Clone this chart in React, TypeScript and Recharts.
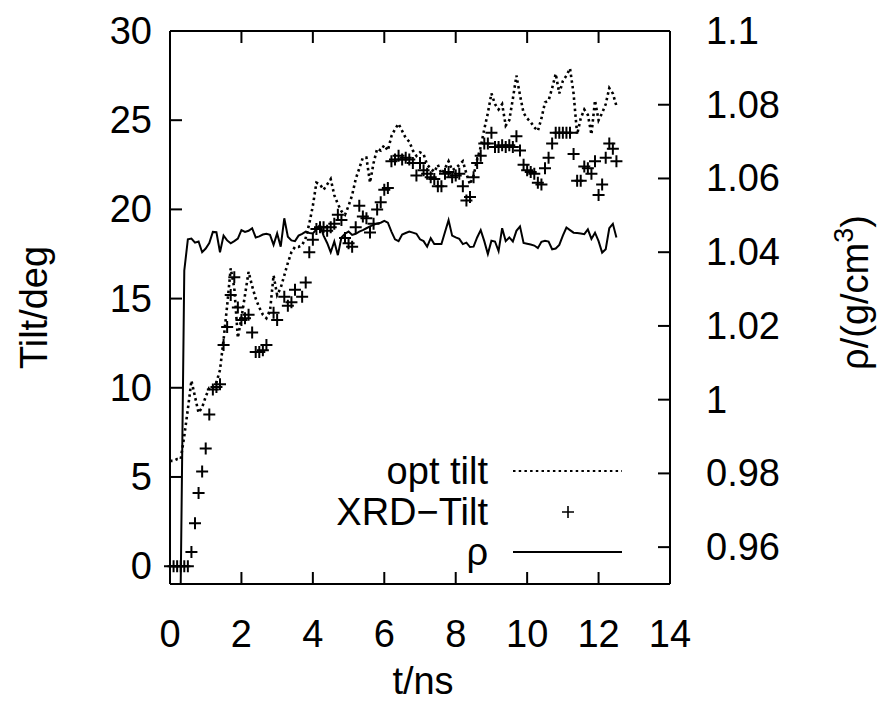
import React from 'react';
import { ComposedChart, Line, Scatter, XAxis, YAxis, Legend } from 'recharts';

// time axis, ns
const TIME = [
  0, 0.1, 0.2, 0.3, 0.4, 0.5, 0.6, 0.7, 0.8, 0.9,
  1, 1.1, 1.2, 1.3, 1.4, 1.5, 1.6, 1.7, 1.8, 1.9,
  2, 2.1, 2.2, 2.3, 2.4, 2.5, 2.6, 2.7, 2.8, 2.9,
  3, 3.1, 3.2, 3.3, 3.4, 3.5, 3.6, 3.7, 3.8, 3.9,
  4, 4.1, 4.2, 4.3, 4.4, 4.5, 4.6, 4.7, 4.8, 4.9,
  5, 5.1, 5.2, 5.3, 5.4, 5.5, 5.6, 5.7, 5.8, 5.9,
  6, 6.1, 6.2, 6.3, 6.4, 6.5, 6.6, 6.7, 6.8, 6.9,
  7, 7.1, 7.2, 7.3, 7.4, 7.5, 7.6, 7.7, 7.8, 7.9,
  8, 8.1, 8.2, 8.3, 8.4, 8.5, 8.6, 8.7, 8.8, 8.9,
  9, 9.1, 9.2, 9.3, 9.4, 9.5, 9.6, 9.7, 9.8, 9.9,
  10, 10.1, 10.2, 10.3, 10.4, 10.5, 10.6, 10.7, 10.8, 10.9,
  11, 11.1, 11.2, 11.3, 11.4, 11.5, 11.6, 11.7, 11.8, 11.9,
  12, 12.1, 12.2, 12.3, 12.4, 12.5,
];

// opt tilt, deg
const OPT_TILT = [
  5.9, 5.9, 6.0, 6.0, 7.3, 8.8, 10.4, 9.5, 8.6, 8.9,
  9.5, 10.0, 10.0, 10.3, 11.0, 12.7, 14.6, 16.7, 15.6, 12.8,
  13.9, 15.2, 16.5, 15.7, 15.0, 14.5, 14.1, 13.9, 14.3, 16.3,
  15.2, 15.6, 16.3, 17.0, 17.6, 17.9, 17.9, 18.0, 18.4, 19.2,
  20.2, 21.5, 21.4, 21.1, 21.4, 21.7, 20.8, 20.3, 19.9, 19.7,
  20.2, 20.8, 21.7, 22.3, 22.9, 22.9, 21.5, 22.6, 23.4, 23.3,
  23.6, 23.3, 24.1, 24.5, 24.8, 24.4, 24.0, 23.8, 23.3, 23.0,
  23.2, 23.1, 22.5, 22.3, 22.1, 22.5, 22.0, 22.3, 22.7, 22.2,
  22.3, 22.5, 22.7, 22.0, 21.4, 21.9, 22.8, 23.5, 24.5, 25.4,
  26.5, 25.9, 25.6, 25.9, 24.7, 25.0, 26.2, 27.5, 26.4, 25.4,
  25.1, 24.9, 24.6, 24.4, 25.1, 26.0, 26.1, 26.8, 27.6, 26.5,
  27.2, 27.5, 27.9, 26.5, 24.2, 25.1, 25.6, 25.3, 24.2, 26.1,
  25.0, 25.4, 25.9, 26.8, 26.5, 25.8,
];

// XRD tilt, deg (null = no point)
const XRD_TILT = [
  0, 0, 0, 0, 0, 0, 0.8, 2.4, 4.1, 5.3,
  6.6, 8.5, 9.9, 10.05, 10.2, 12.4, 13.4, 15.2, 16.2, 14.5,
  13.8, 13.9, 14.1, 13.1, 12.0, 12.0, 12.1, 12.4, null, 14.2,
  13.8, null, 15.1, 14.6, 14.8, 15.5, null, 15.1, 15.9, 17.6,
  18.3, 18.9, 19.0, 19.0, 18.8, 19.0, 19.2, 19.7, 19.4, 18.4,
  18.1, 17.9, 19.0, 20.2, 19.6, 19.5, 18.7, 19.2, 20.0, 20.4,
  21.1, 21.2, 22.7, 22.8, 23.0, 22.8, 22.9, 22.8, 22.6, 21.9,
  22.6, 22.2, 22.0, 21.8, 21.7, 21.3, 21.3, 22.0, 22.1, 21.8,
  21.9, 22.0, 21.3, 20.5, 20.7, 21.8, 22.6, 23.0, 23.7, 23.7,
  24.3, 23.5, 23.5, 23.6, 23.5, 23.6, 23.5, 24.1, 23.3, 22.5,
  22.2, 22.1, 22.0, 21.5, 21.4, 22.3, 22.9, 23.7, 24.3, 24.3,
  24.3, 24.3, 24.3, 23.1, 21.6, 21.6, 22.4, 22.3, 22.0, 22.7,
  20.8, 21.4, 22.9, 23.7, 23.4, 22.7,
];

// density, g/cm3
const RHO = [
  0.95, 0.95, 0.95, 0.95, 1.035, 1.0435, 1.0437, 1.0426, 1.0429, 1.04,
  1.041, 1.0425, 1.0455, 1.0454, 1.04, 1.0445, 1.0432, 1.0424, 1.043, 1.0437,
  1.046, 1.0455, 1.0458, 1.0465, 1.044, 1.0443, 1.0448, 1.045, 1.0447, 1.042,
  1.0451, 1.0415, 1.0492, 1.0442, 1.0432, 1.043, 1.0445, 1.045, 1.0456, 1.0452,
  1.0451, 1.0462, 1.0474, 1.0445, 1.0425, 1.04, 1.0429, 1.0392, 1.044, 1.045,
  1.0456, 1.0447, 1.045, 1.0456, 1.046, 1.0465, 1.047, 1.0474, 1.0478, 1.048,
  1.0485, 1.048, 1.0456, 1.0435, 1.043, 1.0448, 1.0452, 1.0456, 1.0453, 1.045,
  1.0435, 1.043, 1.0415, 1.0438, 1.0422, 1.0422, 1.0422, 1.0455, 1.0487, 1.0445,
  1.044, 1.0436, 1.0422, 1.0426, 1.0414, 1.0415, 1.044, 1.046, 1.043, 1.0395,
  1.0431, 1.0429, 1.0403, 1.0465, 1.043, 1.044, 1.0429, 1.0458, 1.047, 1.0425,
  1.0423, 1.0421, 1.0418, 1.0411, 1.0428, 1.0431, 1.0429, 1.0408, 1.041, 1.042,
  1.0445, 1.0467, 1.046, 1.0453, 1.0452, 1.0451, 1.0449, 1.0462, 1.0436, 1.0453,
  1.043, 1.0399, 1.0408, 1.0465, 1.0477, 1.044,
];

const T_TICKS = [0, 2, 4, 6, 8, 10, 12, 14];
const TILT_TICKS = [0, 5, 10, 15, 20, 25, 30];
const RHO_TICKS = [0.96, 0.98, 1, 1.02, 1.04, 1.06, 1.08, 1.1];

const FONT = '"Liberation Sans", Arial, Helvetica, sans-serif';
const FS = 38;
const TICK_LEN = 12;
const DOTS = '2.5 3.2';

const data = TIME.map((t, i) => ({ t, opt: OPT_TILT[i], rho: RHO[i] }));
const xrdData = TIME.map((t, i) => ({ t, xrd: XRD_TILT[i] })).filter(d => d.xrd !== null);

const LeftTick = (p: any) => (
  <g>
    <line x1={p.x} y1={p.y} x2={p.x + TICK_LEN} y2={p.y} stroke="#000" strokeWidth={2} />
    <text x={p.x - 18} y={p.y} dy={13} textAnchor="end" fontFamily={FONT} fontSize={FS} fill="#000">
      {p.payload.value}
    </text>
  </g>
);

const RightTick = (p: any) => (
  <g>
    <line x1={p.x} y1={p.y} x2={p.x - TICK_LEN} y2={p.y} stroke="#000" strokeWidth={2} />
    <text x={p.x + 36} y={p.y} dy={13} textAnchor="start" fontFamily={FONT} fontSize={FS} fill="#000">
      {p.payload.value}
    </text>
  </g>
);

const BottomTick = (p: any) => (
  <g>
    <line x1={p.x} y1={p.y} x2={p.x} y2={p.y - TICK_LEN} stroke="#000" strokeWidth={2} />
    <text x={p.x} y={p.y + 63} textAnchor="middle" fontFamily={FONT} fontSize={FS} fill="#000">
      {p.payload.value}
    </text>
  </g>
);

const TopTick = (p: any) => (
  <line x1={p.x} y1={p.y} x2={p.x} y2={p.y + TICK_LEN} stroke="#000" strokeWidth={2} />
);

const Plus = (p: any) => {
  const { cx, cy } = p;
  if (cx == null || cy == null) return null;
  return <path d={`M${cx - 6},${cy}H${cx + 6}M${cx},${cy - 6}V${cy + 6}`} stroke="#000" strokeWidth={2} fill="none" />;
};

const LegendBox = (props: any) => {
  const items = props.payload || [];
  const find = (k: string) => items.find((it: any) => it.dataKey === k)?.value;
  const rows = [
    { key: 'opt', label: find('opt') ?? 'opt tilt', y: 23 },
    { key: 'xrd', label: find('xrd') ?? 'XRD−Tilt', y: 64 },
    { key: 'rho', label: find('rho') ?? 'ρ', y: 104 },
  ];
  return (
    <svg width={340} height={130} style={{ display: 'block' }}>
      {rows.map(r => (
        <g key={r.key}>
          <text x={188} y={r.y + 13} textAnchor="end" fontFamily={FONT} fontSize={FS} fill="#000">{r.label}</text>
          {r.key === 'opt' && (
            <line x1={213} y1={r.y} x2={322} y2={r.y} stroke="#000" strokeWidth={2} strokeDasharray={DOTS} />
          )}
          {r.key === 'xrd' && (
            <path d={`M${262},${r.y}H${274}M${268},${r.y - 6}V${r.y + 6}`} stroke="#000" strokeWidth={1.6} />
          )}
          {r.key === 'rho' && <line x1={213} y1={r.y} x2={322} y2={r.y} stroke="#000" strokeWidth={2} />}
        </g>
      ))}
    </svg>
  );
};

const LeftTitle = (p: any) => {
  const vb = p.viewBox;
  const cx = vb.x - 55;
  const cy = vb.y + vb.height / 2;
  return (
    <text x={cx} y={cy} transform={`rotate(-90, ${cx}, ${cy})`} textAnchor="middle" dy={12}
      fontFamily={FONT} fontSize={FS} fill="#000">Tilt/deg</text>
  );
};

const RightTitle = (p: any) => {
  const vb = p.viewBox;
  const cx = vb.x + 186;
  const cy = vb.y + vb.height / 2 - 15;
  return (
    <text x={cx} y={cy} transform={`rotate(-90, ${cx}, ${cy})`} textAnchor="middle" dy={12}
      fontFamily={FONT} fontSize={FS} fill="#000">
      ρ/(g/cm<tspan dy={-15} fontSize={27}>3</tspan><tspan dy={15}>)</tspan>
    </text>
  );
};

const BottomTitle = (p: any) => {
  const vb = p.viewBox;
  return (
    <text x={vb.x + vb.width / 2 + 3} y={vb.y + 110} textAnchor="middle" fontFamily={FONT} fontSize={FS} fill="#000">
      t/ns
    </text>
  );
};

export default function App() {
  return (
    <div style={{ width: 877, height: 694, position: 'relative' }}>
      <ComposedChart width={877} height={694} data={data} margin={{ top: 22, right: 135, bottom: 58, left: 82 }}>
        <XAxis
          xAxisId="bottom" dataKey="t" type="number" domain={[0, 14]} ticks={T_TICKS} interval={0}
          height={60} tickSize={0} tickMargin={0} tick={<BottomTick />}
          axisLine={{ stroke: '#000', strokeWidth: 2 }} tickLine={false}
          label={{ content: <BottomTitle /> } as any}
        />
        <XAxis
          xAxisId="top" orientation="top" dataKey="t" type="number" domain={[0, 14]} ticks={T_TICKS} interval={0}
          height={1} tickSize={0} tickMargin={0} tick={<TopTick />}
          axisLine={{ stroke: '#000', strokeWidth: 2 }} tickLine={false}
        />
        <YAxis
          yAxisId="tilt" type="number" domain={[-1, 30]} ticks={TILT_TICKS} interval={0}
          width={80} tickSize={0} tickMargin={0} tick={<LeftTick />}
          axisLine={{ stroke: '#000', strokeWidth: 2 }} tickLine={false}
          label={{ content: <LeftTitle /> } as any}
        />
        <YAxis
          yAxisId="rho" orientation="right" type="number" domain={[0.95, 1.1]} ticks={RHO_TICKS} interval={0}
          allowDataOverflow width={80} tickSize={0} tickMargin={0} tick={<RightTick />}
          axisLine={{ stroke: '#000', strokeWidth: 2 }} tickLine={false}
          label={{ content: <RightTitle /> } as any}
        />
        <Line
          xAxisId="bottom" yAxisId="tilt" dataKey="opt" name="opt tilt" type="linear"
          stroke="#000" strokeWidth={2.6} strokeDasharray={DOTS} dot={false} activeDot={false}
          isAnimationActive={false}
        />
        <Scatter
          xAxisId="bottom" yAxisId="tilt" data={xrdData} dataKey="xrd" name="XRD−Tilt"
          shape={<Plus />} isAnimationActive={false}
        />
        <Line
          xAxisId="bottom" yAxisId="rho" dataKey="rho" name="ρ" type="linear"
          stroke="#000" strokeWidth={2} dot={false} activeDot={false} isAnimationActive={false}
        />
        <Legend
          layout="vertical" align="center" verticalAlign="middle" content={<LegendBox />}
          wrapperStyle={{ left: 292, top: 440, width: 340, height: 130 }}
        />
      </ComposedChart>
    </div>
  );
}
